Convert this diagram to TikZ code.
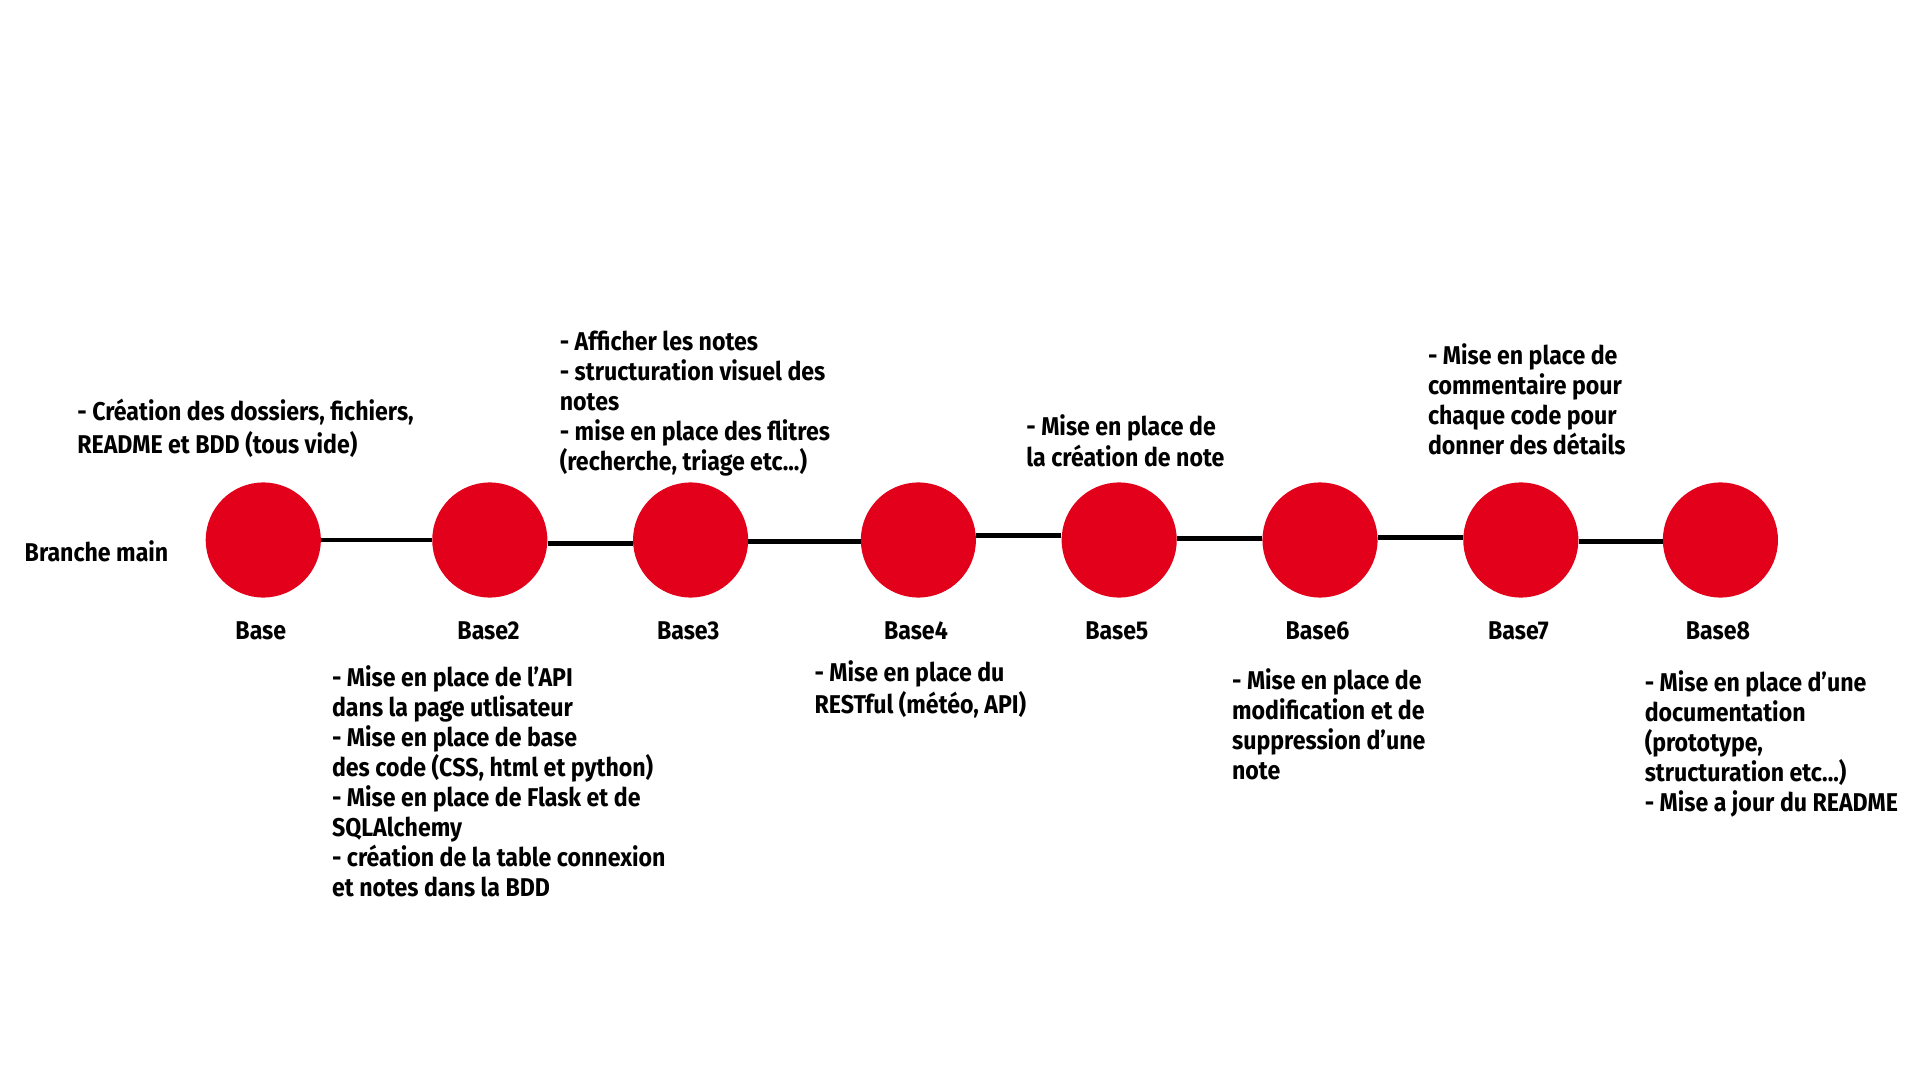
\documentclass[tikz,border=0pt]{standalone}
\usepackage{fontspec}
\setmainfont{Fira Sans}[FakeStretch=0.9]
\definecolor{commitred}{RGB}{226,0,26}
\begin{document}
\begin{tikzpicture}[x=1pt,y=-1pt,
  commit/.style={circle,fill=commitred,minimum size=94pt,inner sep=0pt},
  lbl/.style={font=\fontsize{21}{24.5}\selectfont\bfseries,inner sep=0pt},
  note/.style={lbl,align=left,anchor=north west},
  link/.style={line width=4pt,black}]
\useasboundingbox (0,0) rectangle (1568,882);
\fill[white] (0,0) rectangle (1568,882);

\node[commit] (c1) at (215,441) {};
\node[commit] (c2) at (400,441) {};
\node[commit] (c3) at (564,441) {};
\node[commit] (c4) at (750,441) {};
\node[commit] (c5) at (914,441) {};
\node[commit] (c6) at (1078,441) {};
\node[commit] (c7) at (1242,441) {};
\node[commit] (c8) at (1405,441) {};

\draw[link] (c1.east) -- (c2.west);
\draw[link] ([yshift=-3pt]c2.east) -- ([yshift=-3pt]c3.west);
\draw[link] ([yshift=-1pt]c3.east) -- ([yshift=-1pt]c4.west);
\draw[link] ([yshift=4pt]c4.east) -- ([yshift=4pt]c5.west);
\draw[link] ([yshift=1pt]c5.east) -- ([yshift=1pt]c6.west);
\draw[link] ([yshift=2pt]c6.east) -- ([yshift=2pt]c7.west);
\draw[link] ([yshift=-1pt]c7.east) -- ([yshift=-1pt]c8.west);

\node[lbl,anchor=west] (br) at (20,450) {Branche main};

\node[lbl] (l1) at (213,515) {Base};
\node[lbl] (l2) at (399,515) {Base2};
\node[lbl] (l3) at (562,515) {Base3};
\node[lbl] (l4) at (748,515) {Base4};
\node[lbl] (l5) at (912,515) {Base5};
\node[lbl] (l6) at (1076,515) {Base6};
\node[lbl] (l7) at (1240,515) {Base7};
\node[lbl] (l8) at (1403,515) {Base8};

\node[note] (n1) at (63,326) {\strut- Création des dossiers, fichiers,\\README et BDD (tous vide)};
\node[note] (n3) at (457,269) {\strut- Afficher les notes\\- structuration visuel des\\notes\\- mise en place des flitres\\(recherche, triage etc...)};
\node[note] (n5) at (838,338) {\strut- Mise en place de\\la création de note};
\node[note] (n7) at (1166,280) {\strut- Mise en place de\\commentaire pour\\chaque code pour\\donner des détails};

\node[note] (n2) at (271,543) {\strut- Mise en place de l’API\\dans la page utlisateur\\- Mise en place de base\\des code (CSS, html et python)\\- Mise en place de Flask et de\\SQLAlchemy\\- création de la table connexion\\et notes dans la BDD};
\node[note] (n4) at (665,539) {\strut- Mise en place du\\RESTful (météo, API)};
\node[note] (n6) at (1006,546) {\strut- Mise en place de\\modification et de\\suppression d’une\\note};
\node[note] (n8) at (1343,547) {\strut- Mise en place d’une\\documentation\\(prototype,\\structuration etc...)\\- Mise a jour du README};
\end{tikzpicture}
\end{document}
